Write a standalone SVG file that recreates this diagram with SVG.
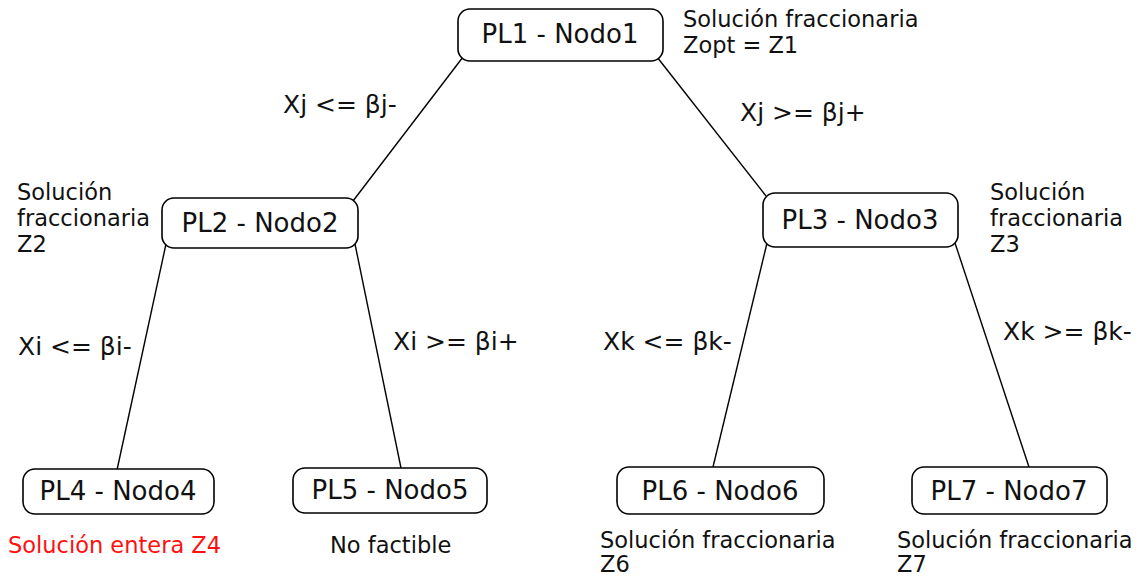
<svg xmlns="http://www.w3.org/2000/svg" width="1142" height="577" viewBox="0 0 1142 577">
<style>
.box{fill:#fff;stroke:#000;stroke-width:1.6}
.nt{font-family:"DejaVu Sans",Verdana,sans-serif;font-size:26px;fill:#111;text-anchor:middle}
.an{font-family:"DejaVu Sans",Verdana,sans-serif;font-size:22.5px;fill:#111}
.el{font-family:"DejaVu Sans",Verdana,sans-serif;font-size:25px;fill:#111}
.red{fill:#ff1010}
.edge{stroke:#000;stroke-width:1.4;fill:none}
</style>
<rect width="1142" height="577" fill="#fff"/>
<g id="connectors">
<line class="edge" x1="463" y1="57" x2="353" y2="201"/>
<line class="edge" x1="657" y1="57" x2="766" y2="196"/>
<line class="edge" x1="166" y1="244" x2="117" y2="470"/>
<line class="edge" x1="355" y1="244" x2="401" y2="468"/>
<line class="edge" x1="767" y1="243" x2="713" y2="467"/>
<line class="edge" x1="955" y1="243" x2="1029" y2="467"/>
</g>
<g id="edge-labels">
<text class="el" x="283" y="113">Xj &lt;= βj-</text>
<text class="el" x="740" y="121">Xj &gt;= βj+</text>
<text class="el" x="18" y="355">Xi &lt;= βi-</text>
<text class="el" x="393" y="350">Xi &gt;= βi+</text>
<text class="el" x="603" y="350">Xk &lt;= βk-</text>
<text class="el" x="1003" y="340">Xk &gt;= βk-</text>
</g>
<g id="node1">
<rect class="box" x="458" y="9" width="205" height="52" rx="12"/>
<text class="nt" x="560" y="43">PL1 - Nodo1</text>
<text class="an" x="683" y="27">Solución fraccionaria</text>
<text class="an" x="683" y="53">Zopt = Z1</text>
</g>
<g id="node2">
<rect class="box" x="162" y="198" width="196" height="50" rx="12"/>
<text class="nt" x="260" y="232">PL2 - Nodo2</text>
<text class="an" x="17" y="200">Solución</text>
<text class="an" x="17" y="226">fraccionaria</text>
<text class="an" x="17" y="252">Z2</text>
</g>
<g id="node3">
<rect class="box" x="763" y="193" width="195" height="54" rx="12"/>
<text class="nt" x="860" y="229">PL3 - Nodo3</text>
<text class="an" x="990" y="200">Solución</text>
<text class="an" x="990" y="226">fraccionaria</text>
<text class="an" x="990" y="252">Z3</text>
</g>
<g id="node4">
<rect class="box" x="23" y="469" width="191" height="45" rx="12"/>
<text class="nt" x="118" y="500">PL4 - Nodo4</text>
<text class="an red" x="8" y="553">Solución entera Z4</text>
</g>
<g id="node5">
<rect class="box" x="293" y="468" width="194" height="45" rx="12"/>
<text class="nt" x="390" y="499">PL5 - Nodo5</text>
<text class="an" x="330" y="553">No factible</text>
</g>
<g id="node6">
<rect class="box" x="617" y="467" width="207" height="47" rx="12"/>
<text class="nt" x="720" y="500">PL6 - Nodo6</text>
<text class="an" x="600" y="548">Solución fraccionaria</text>
<text class="an" x="600" y="572">Z6</text>
</g>
<g id="node7">
<rect class="box" x="912" y="467" width="195" height="47" rx="12"/>
<text class="nt" x="1009" y="500">PL7 - Nodo7</text>
<text class="an" x="897" y="548">Solución fraccionaria</text>
<text class="an" x="897" y="572">Z7</text>
</g>
</svg>
